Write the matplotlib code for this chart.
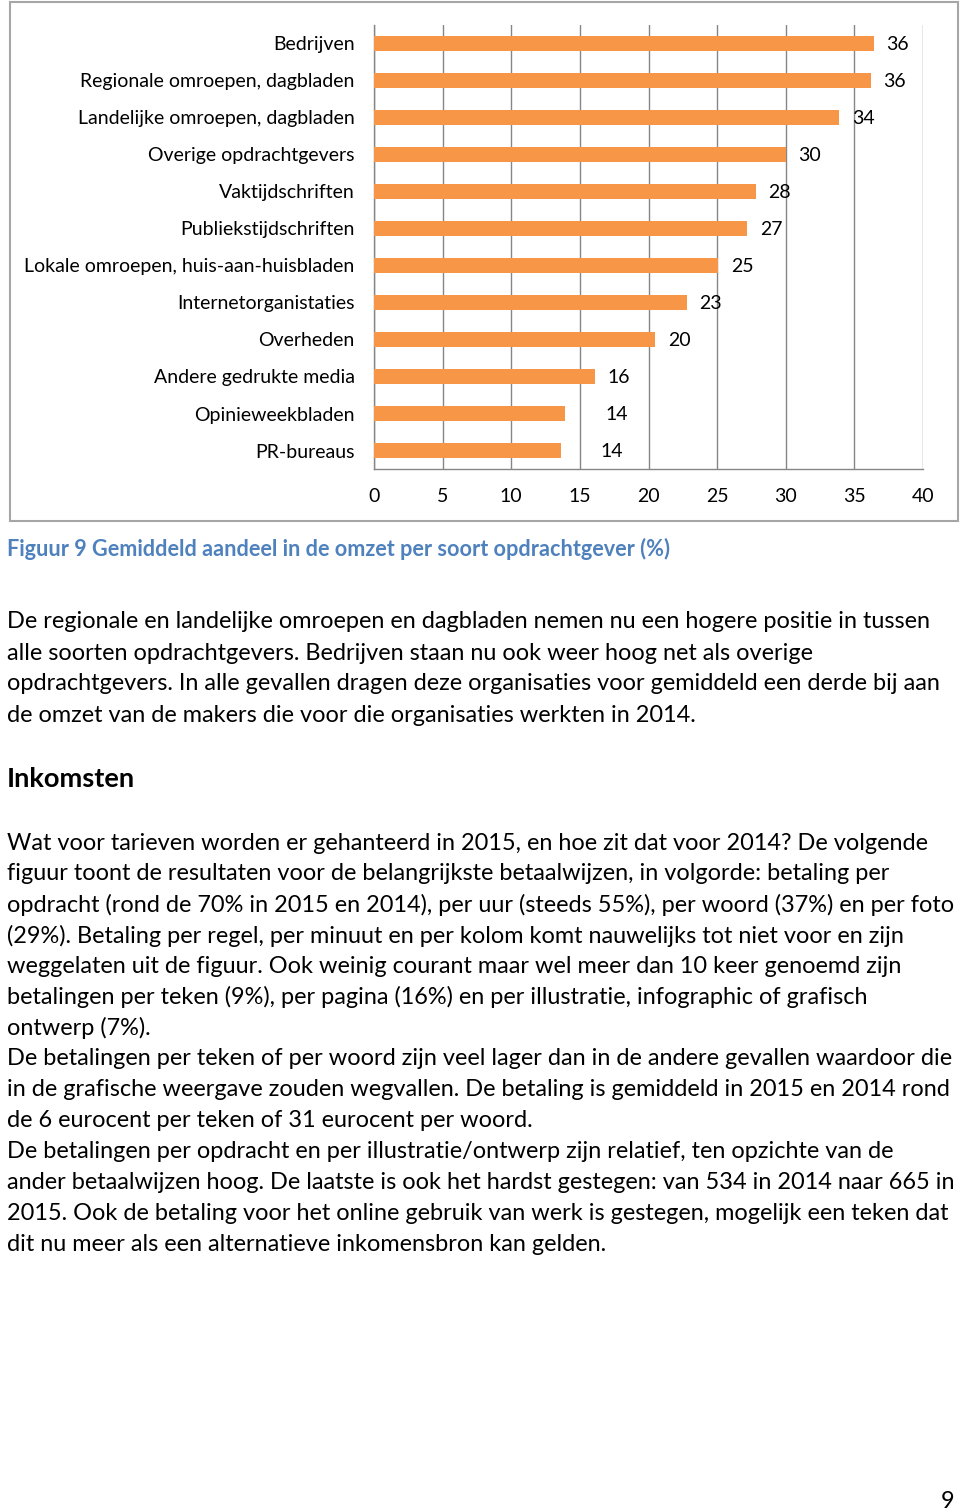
import matplotlib.pyplot as plt
from matplotlib.patches import Rectangle

plt.rcParams['font.family'] = ['Lato', 'DejaVu Sans']

categories = ['Bedrijven', 'Regionale omroepen, dagbladen', 'Landelijke omroepen, dagbladen',
              'Overige opdrachtgevers', 'Vaktijdschriften', 'Publiekstijdschriften',
              'Lokale omroepen, huis-aan-huisbladen', 'Internetorganistaties', 'Overheden',
              'Andere gedrukte media', 'Opinieweekbladen', 'PR-bureaus']
values = [36.4, 36.2, 33.9, 30.0, 27.8, 27.2, 25.1, 22.8, 20.5, 16.1, 13.9, 13.6]
x_ticks = [0, 5, 10, 15, 20, 25, 30, 35, 40]

caption = 'Figuur 9 Gemiddeld aandeel in de omzet per soort opdrachtgever (%)'
heading = 'Inkomsten'
para1 = [
    'De regionale en landelijke omroepen en dagbladen nemen nu een hogere positie in tussen',
    'alle soorten opdrachtgevers. Bedrijven staan nu ook weer hoog net als overige',
    'opdrachtgevers. In alle gevallen dragen deze organisaties voor gemiddeld een derde bij aan',
    'de omzet van de makers die voor die organisaties werkten in 2014.',
]
para2 = [
    'Wat voor tarieven worden er gehanteerd in 2015, en hoe zit dat voor 2014? De volgende',
    'figuur toont de resultaten voor de belangrijkste betaalwijzen, in volgorde: betaling per',
    'opdracht (rond de 70% in 2015 en 2014), per uur (steeds 55%), per woord (37%) en per foto',
    '(29%). Betaling per regel, per minuut en per kolom komt nauwelijks tot niet voor en zijn',
    'weggelaten uit de figuur. Ook weinig courant maar wel meer dan 10 keer genoemd zijn',
    'betalingen per teken (9%), per pagina (16%) en per illustratie, infographic of grafisch',
    'ontwerp (7%).',
    'De betalingen per teken of per woord zijn veel lager dan in de andere gevallen waardoor die',
    'in de grafische weergave zouden wegvallen. De betaling is gemiddeld in 2015 en 2014 rond',
    'de 6 eurocent per teken of 31 eurocent per woord.',
    'De betalingen per opdracht en per illustratie/ontwerp zijn relatief, ten opzichte van de',
    'ander betaalwijzen hoog. De laatste is ook het hardst gestegen: van 534 in 2014 naar 665 in',
    '2015. Ook de betaling voor het online gebruik van werk is gestegen, mogelijk een teken dat',
    'dit nu meer als een alternatieve inkomensbron kan gelden.',
]

W, H = 960, 1512
fig = plt.figure(figsize=(9.6, 15.12), dpi=100)
fig.patch.set_facecolor('white')


def fx(px):
    return px / W


def fy(py):
    return 1 - py / H


# chart frame
fig.add_artist(Rectangle((fx(10), fy(521)), fx(948), (521 - 2) / H, transform=fig.transFigure,
                         fill=False, edgecolor='#a6a6a6', linewidth=1.5))

ax = fig.add_axes([fx(374), fy(469), fx(923 - 374), (469 - 25) / H])
ypos = list(range(len(categories)))
ax.barh(ypos, values, height=0.4, color='#f79646', zorder=3)
ax.set_ylim(len(categories) - 0.5, -0.5)
ax.set_xlim(0, 40)
ax.set_xticks(x_ticks)
ax.set_yticks(ypos)
ax.set_yticklabels(categories)
ax.tick_params(axis='both', length=0, labelsize=14, colors='#000000')
ax.tick_params(axis='y', pad=14)
ax.tick_params(axis='x', pad=14)
ax.grid(axis='x', color='#868686', linewidth=1, zorder=0)
for s in ['top', 'right']:
    ax.spines[s].set_visible(False)
for s in ['left', 'bottom']:
    ax.spines[s].set_color('#868686')
    ax.spines[s].set_linewidth(1)

# data labels, the two smallest sit further out like in the original
for i, v in enumerate(values):
    extra = 20 if i >= len(values) - 2 else 0
    ax.annotate('%.0f' % v, (v, i), xytext=(9 + extra, -1), textcoords='offset points',
                va='center', ha='left', fontsize=14)

fig.text(fx(7), fy(549), caption, color='#4f81bd', fontweight='bold', fontsize=15.6, va='center')

y = 622
for line in para1:
    fig.text(fx(7), fy(y), line, fontsize=16.9, va='center')
    y += 31

fig.text(fx(7), fy(779), heading, fontsize=19.6, fontweight='bold', va='center')

y = 843
for line in para2:
    fig.text(fx(7), fy(y), line, fontsize=16.9, va='center')
    y += 30.85

fig.text(fx(948), fy(1501), '9', fontsize=16.9, va='center', ha='center')

fig.savefig('out.png', dpi=100)
